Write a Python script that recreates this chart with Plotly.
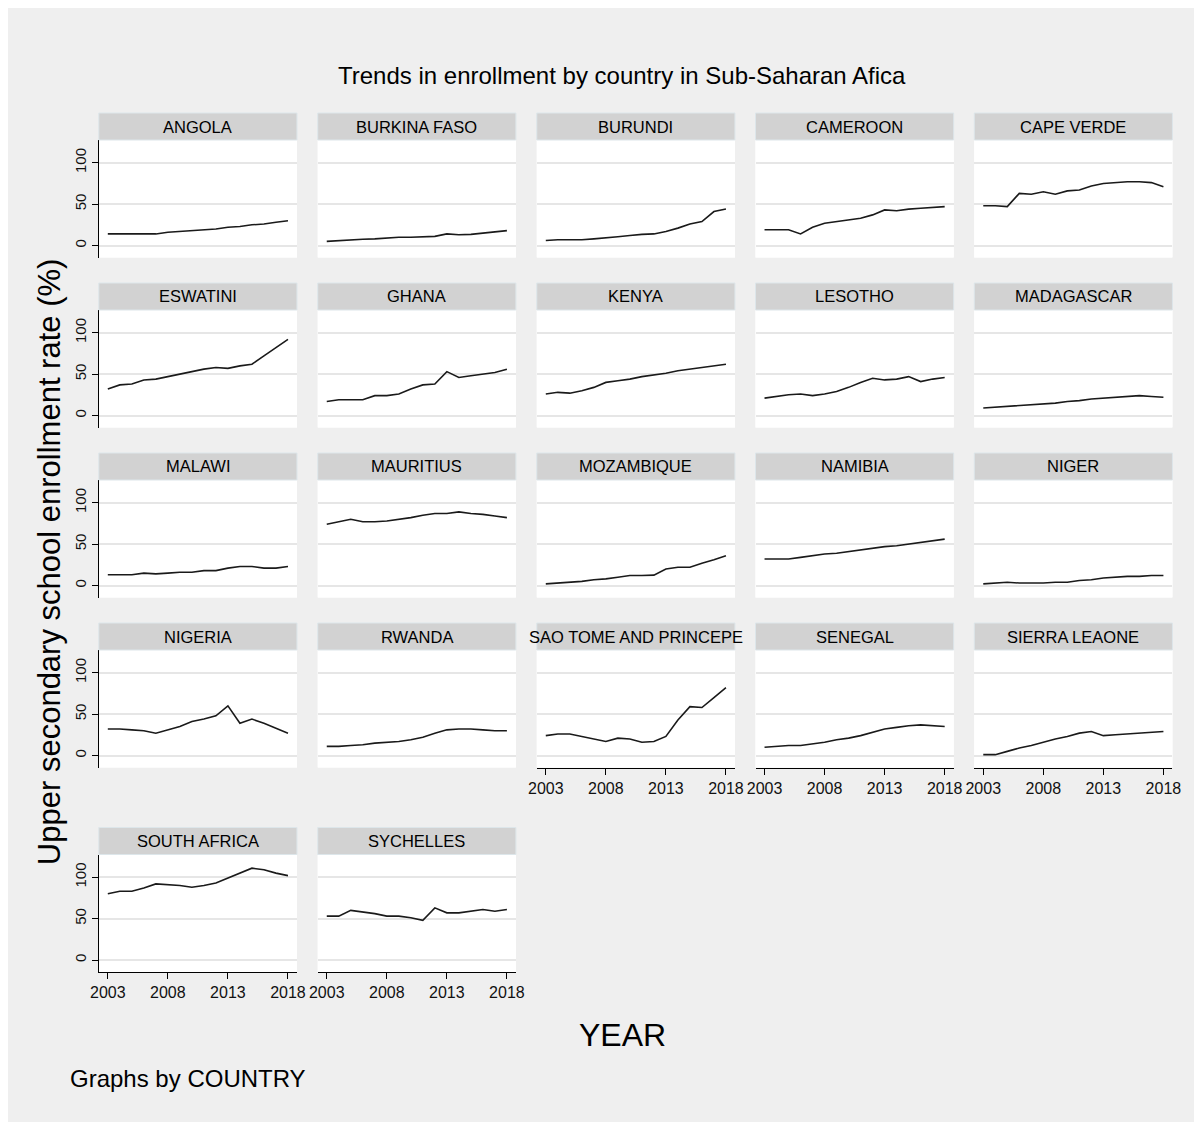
import plotly.graph_objects as go

years = list(range(2003, 2019))

countries = ["ANGOLA", "BURKINA FASO", "BURUNDI", "CAMEROON", "CAPE VERDE",
             "ESWATINI", "GHANA", "KENYA", "LESOTHO", "MADAGASCAR",
             "MALAWI", "MAURITIUS", "MOZAMBIQUE", "NAMIBIA", "NIGER",
             "NIGERIA", "RWANDA", "SAO TOME AND PRINCEPE", "SENEGAL", "SIERRA LEAONE",
             "SOUTH AFRICA", "SYCHELLES"]

angola = [14, 14, 14, 14, 14, 16, 17, 18, 19, 20, 22, 23, 25, 26, 28, 30]
burkina_faso = [5, 6, 7, 7.5, 8, 9, 10, 10, 10.5, 11, 14, 13, 13.5, 15, 16.5, 18]
burundi = [6, 7, 7, 7, 8, 9, 10.5, 12, 13.5, 14, 17, 21, 26, 29, 41, 44]
cameroon = [19, 19, 19, 14, 22, 27, 29, 31, 33, 37, 43, 42, 44, 45, 46, 47]
cape_verde = [48, 48, 47, 63, 62, 65, 62, 66, 67, 72, 75, 76, 77, 77, 76, 71]
eswatini = [32, 37, 38, 43, 44, 47, 50, 53, 56, 58, 57, 60, 62, 72, 82, 92]
ghana = [17, 19, 19, 19, 24, 24, 26, 32, 37, 38, 53, 46, 48, 50, 52, 56]
kenya = [26, 28, 27, 30, 34, 40, 42, 44, 47, 49, 51, 54, 56, 58, 60, 62]
lesotho = [21, 23, 25, 26, 24, 26, 29, 34, 40, 45, 43, 44, 47, 41, 44, 46]
madagascar = [9, 10, 11, 12, 13, 14, 15, 17, 18, 20, 21, 22, 23, 24, 23, 22]
malawi = [13, 13, 13, 15, 14, 15, 16, 16, 18, 18, 21, 23, 23, 21, 21, 23]
mauritius = [74, 77, 80, 77, 77, 78, 80, 82, 85, 87, 87, 89, 87, 86, 84, 82]
mozambique = [2, 3, 4, 5, 7, 8, 10, 12, 12, 12.5, 20, 22, 22, 27, 31, 36]
namibia = [32, 32, 32, 34, 36, 38, 39, 41, 43, 45, 47, 48, 50, 52, 54, 56]
niger = [2, 3, 4, 3, 3, 3, 4, 4, 6, 7, 9, 10, 11, 11, 12, 12]
nigeria = [32, 32, 31, 30, 27, 31, 35, 41, 44, 48, 60, 39, 44, 39, 33, 27]
rwanda = [11, 11, 12, 13, 15, 16, 17, 19, 22, 27, 31, 32, 32, 31, 30, 30]
sao_tome = [24, 26, 26, 23, 20, 17, 21, 20, 16, 17, 23, 43, 59, 58, 70, 82]
senegal = [10, 11, 12, 12, 14, 16, 19, 21, 24, 28, 32, 34, 36, 37, 36, 35]
sierra_leone = [1, 1, 5, 9, 12, 16, 20, 23, 27, 29, 24, 25, 26, 27, 28, 29]
south_africa = [80, 83, 83, 87, 92, 91, 90, 88, 90, 93, 99, 105, 111, 109, 105, 102]
sychelles = [53, 53, 60, 58, 56, 53, 53, 51, 48, 63, 57, 57, 59, 61, 59, 61]

series = [angola, burkina_faso, burundi, cameroon, cape_verde,
          eswatini, ghana, kenya, lesotho, madagascar,
          malawi, mauritius, mozambique, namibia, niger,
          nigeria, rwanda, sao_tome, senegal, sierra_leone,
          south_africa, sychelles]

y_ticks = [0, 50, 100]
x_ticks = [2003, 2008, 2013, 2018]

FONT = "Liberation Sans, Arial, sans-serif"
BG = "#efefef"

W, H = 1186, 1114

PX0, PXW = 10.0, 1182.0


def fx(px):
    return (px - PX0) / PXW


def fy(py):
    return 1 - (py - 8) / H


col_left = [100.5, 318.7, 537, 755, 973]
panel_w = 197.5
row_top = [140, 310, 480, 650, 854.5]
panel_h = 117.5
head_h = 27

fig = go.Figure()
shapes = []
annotations = []
n = len(countries)

for i, (name, vals) in enumerate(zip(countries, series)):
    r, c = divmod(i, 5)
    k = "" if i == 0 else str(i + 1)
    left = col_left[c]
    top = row_top[r]
    x0, x1 = fx(left), fx(left + panel_w)
    y1, y0 = fy(top), fy(top + panel_h)
    has_below = (i + 5) < n
    is_left = c == 0

    fig.add_trace(go.Scatter(x=years, y=vals, mode="lines",
                             line=dict(color="#1a1a1a", width=1.6),
                             xaxis="x" + k, yaxis="y" + k, showlegend=False,
                             hoverinfo="x+y"))

    fig.layout["xaxis" + k] = dict(
        domain=[x0, x1], anchor="y" + k, range=[2002.25, 2018.75],
        tickvals=x_ticks, showgrid=False, zeroline=False,
        showticklabels=not has_below, ticks="outside" if not has_below else "",
        ticklen=6, tickcolor="black", tickwidth=1,
        showline=not has_below, linecolor="black", linewidth=1,
        tickfont=dict(family=FONT, size=16, color="#111"),
        automargin=False, fixedrange=True)
    fig.layout["yaxis" + k] = dict(
        domain=[y0, y1], anchor="x" + k, range=[-14.5, 127.5],
        tickvals=y_ticks, showgrid=True, gridcolor="#e6e6e6", gridwidth=2,
        zeroline=False, showticklabels=is_left,
        ticks="outside" if is_left else "", ticklen=6, tickcolor="black",
        showline=is_left, linecolor="black", linewidth=1, tickangle=-90,
        tickfont=dict(family=FONT, size=15, color="#111"),
        automargin=False, fixedrange=True)

    shapes.append(dict(type="rect", xref="paper", yref="paper",
                       x0=x0, x1=x1, y0=y0, y1=y1,
                       fillcolor="white", line=dict(width=0), layer="below"))
    shapes.append(dict(type="rect", xref="paper", yref="paper",
                       x0=x0, x1=x1, y0=y1, y1=fy(top - head_h),
                       fillcolor="#d2d2d2", line=dict(color="#dde6ea", width=1),
                       layer="above"))
    annotations.append(dict(text=name, xref="paper", yref="paper",
                            x=(x0 + x1) / 2, y=fy(top - head_h / 2),
                            xanchor="center", yanchor="middle", showarrow=False,
                            font=dict(family=FONT, size=16.5, color="black")))

annotations += [
    dict(text="Trends in enrollment by country in Sub-Saharan Afica",
         xref="paper", yref="paper", x=fx(622), y=fy(75),
         xanchor="center", yanchor="middle", showarrow=False,
         font=dict(family=FONT, size=24, color="black")),
    dict(text="Upper secondary school enrollment rate (%)",
         xref="paper", yref="paper", x=fx(51), y=fy(562), textangle=-90,
         xanchor="center", yanchor="middle", showarrow=False,
         font=dict(family=FONT, size=31, color="black")),
    dict(text="YEAR", xref="paper", yref="paper", x=fx(622), y=fy(1035),
         xanchor="center", yanchor="middle", showarrow=False,
         font=dict(family=FONT, size=32, color="black")),
    dict(text="Graphs by COUNTRY", xref="paper", yref="paper", x=fx(70), y=fy(1078),
         xanchor="left", yanchor="middle", showarrow=False,
         font=dict(family=FONT, size=24, color="black")),
]

fig.update_layout(width=W, height=H, margin=dict(l=0, r=0, t=0, b=0),
                  paper_bgcolor=BG, plot_bgcolor="white",
                  shapes=shapes, annotations=annotations, showlegend=False)

fig.write_html("out.html")
